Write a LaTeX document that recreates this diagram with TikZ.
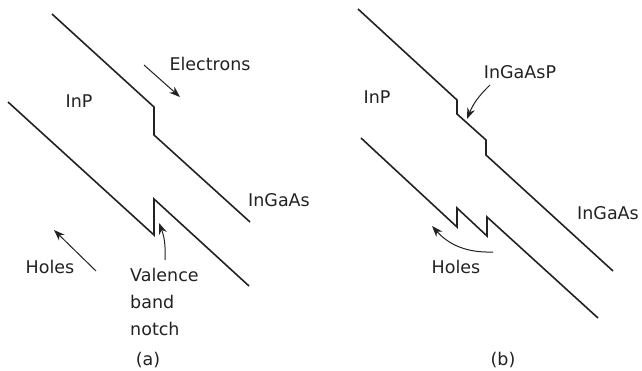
\documentclass[tikz,border=0pt]{standalone}
\usepackage{fontspec}
\setmainfont{DejaVu Sans}
\usetikzlibrary{positioning,arrows.meta,calc}
\definecolor{ink}{HTML}{222222}
\begin{document}
\begin{tikzpicture}[x=1pt,y=-1pt,
  band/.style={line width=1.6pt,color=ink,line join=miter},
  lbl/.style={inner sep=0pt,text=ink,font=\fontsize{17.5}{27}\selectfont},
  arr/.style={line width=1pt,color=ink,-{Stealth[length=11pt,width=8pt]}}]
  \useasboundingbox (0,0) rectangle (642,370);
  % (a) InP / InGaAs
  \draw[band] (52,14)--(154,107)--(154,135)--(250,222);
  \draw[band] (8,102)--(154,235)--(154,199)--(249,286);
  \node[lbl] (electrons) at (210,64){Electrons};
  \node[lbl] (inpA) at (79,101){InP};
  \node[lbl] (ingaasA) at (279,200){InGaAs};
  \node[lbl] (holesA) at (50,267){Holes};
  \node[lbl,align=left,anchor=north west] (notch) at (130,268){Valence\\band\\notch};
  \node[lbl] (capA) at (148,360){(a)};
  \coordinate (e1) at (144,65); \coordinate (e2) at (180,97);
  \coordinate (h1) at (96,271); \coordinate (h2) at (54,230);
  \coordinate (n1) at (165,260); \coordinate (n2) at (159,223);
  \draw[arr] (e1)--(e2);
  \draw[arr] (h1)--(h2);
  \draw[arr] (n1) to[bend right=12] (n2);
  % (b) with InGaAsP layer
  \draw[band] (358,9)--(457,100)--(457,114)--(486,140)--(486,155)--(613,271);
  \draw[band] (361,138)--(457,227)--(457,208)--(487,236)--(487,217)--(598,318);
  \node[lbl] (inpB) at (377,97){InP};
  \node[lbl] (ingaasp) at (520,72){InGaAsP};
  \node[lbl] (ingaasB) at (608,213){InGaAs};
  \node[lbl] (holesB) at (456,267){Holes};
  \node[lbl] (capB) at (503,360){(b)};
  \coordinate (p1) at (490,85); \coordinate (p2) at (467,119);
  \coordinate (k1) at (493,252); \coordinate (k2) at (432,226);
  \draw[arr] (p1) to[bend right=12] (p2);
  \draw[arr] (k1) to[bend left=25] (k2);
\end{tikzpicture}
\end{document}
